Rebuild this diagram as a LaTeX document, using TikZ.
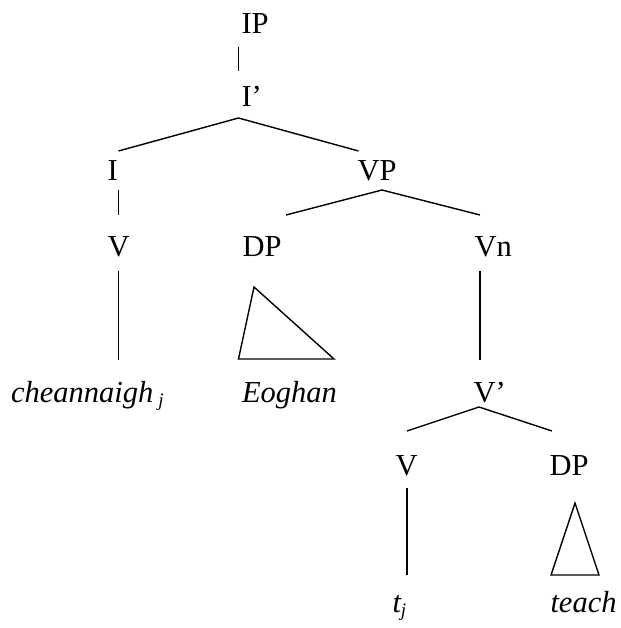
\documentclass[tikz,border=0pt]{standalone}
\usepackage{fontspec}
\setmainfont{Liberation Serif}
\begin{document}
\begin{tikzpicture}[x=1pt,y=-1pt,
  lbl/.style={anchor=base west,inner sep=0pt,outer sep=0pt,font=\fontsize{30.5}{36}\selectfont},
  edge/.style={line width=1.4pt,line cap=butt},
  vedge/.style={line width=1.2pt},
  tri/.style={line width=1.4pt,line join=miter}]
\useasboundingbox (0,0) rectangle (620,628);
% labels
\node[lbl] (IP)  at (241.5,34)  {IP};
\node[lbl] (Ib)  at (241.5,107) {I’};
\node[lbl] (I)   at (107.5,181) {I};
\node[lbl] (VP)  at (357.5,181) {VP};
\node[lbl] (V1)  at (107.5,256) {V};
\node[lbl] (DP1) at (242.5,256) {DP};
\node[lbl] (Vn)  at (474.5,256) {Vn};
\node[lbl] (ch)  at (11,402)    {\itshape cheannaigh\kern5pt\raisebox{-4pt}{\fontsize{19}{20}\selectfont j}};
\node[lbl] (Eo)  at (242,402)   {\itshape Eoghan};
\node[lbl] (Vb)  at (473.5,402) {V’};
\node[lbl] (V2)  at (395.5,475) {V};
\node[lbl] (DP2) at (549.5,475) {DP};
\node[lbl] (tj)  at (392.5,612) {\itshape t\raisebox{-4pt}{\fontsize{19}{20}\selectfont j}};
\node[lbl] (te)  at (550.5,612) {\itshape teach};
% connector end points
\coordinate (IPb) at (238.7,47);   \coordinate (Ibt) at (238.7,71);
\coordinate (IbA) at (238.5,118);  \coordinate (IbL) at (118.5,151); \coordinate (IbR) at (358.5,151);
\coordinate (Ib1) at (118.5,190);  \coordinate (Ib2) at (118.5,215);
\coordinate (VPA) at (382,190);    \coordinate (VPL) at (286,215);   \coordinate (VPR) at (480,215);
\coordinate (V1a) at (118.5,271);  \coordinate (V1b) at (118.5,360);
\coordinate (T1a) at (254,287);    \coordinate (T1l) at (238.5,359); \coordinate (T1r) at (334,359);
\coordinate (Vna) at (480,271);    \coordinate (Vnb) at (480,360);
\coordinate (VbA) at (479,407);    \coordinate (VbL) at (407,431);   \coordinate (VbR) at (552,431);
\coordinate (V2a) at (407,488);    \coordinate (V2b) at (407,575);
\coordinate (T2a) at (575,503);    \coordinate (T2l) at (551,575);   \coordinate (T2r) at (599,575);
% connectors
\draw[vedge] (IPb) -- (Ibt);
\draw[edge] (IbL) -- (IbA) -- (IbR);
\draw[vedge] (Ib1) -- (Ib2);
\draw[edge] (VPL) -- (VPA) -- (VPR);
\draw[vedge] (V1a) -- (V1b);
\draw[tri] (T1a) -- (T1l) -- (T1r) -- cycle;
\draw[vedge] (Vna) -- (Vnb);
\draw[edge] (VbL) -- (VbA) -- (VbR);
\draw[vedge] (V2a) -- (V2b);
\draw[tri] (T2a) -- (T2l) -- (T2r) -- cycle;
\end{tikzpicture}
\end{document}
